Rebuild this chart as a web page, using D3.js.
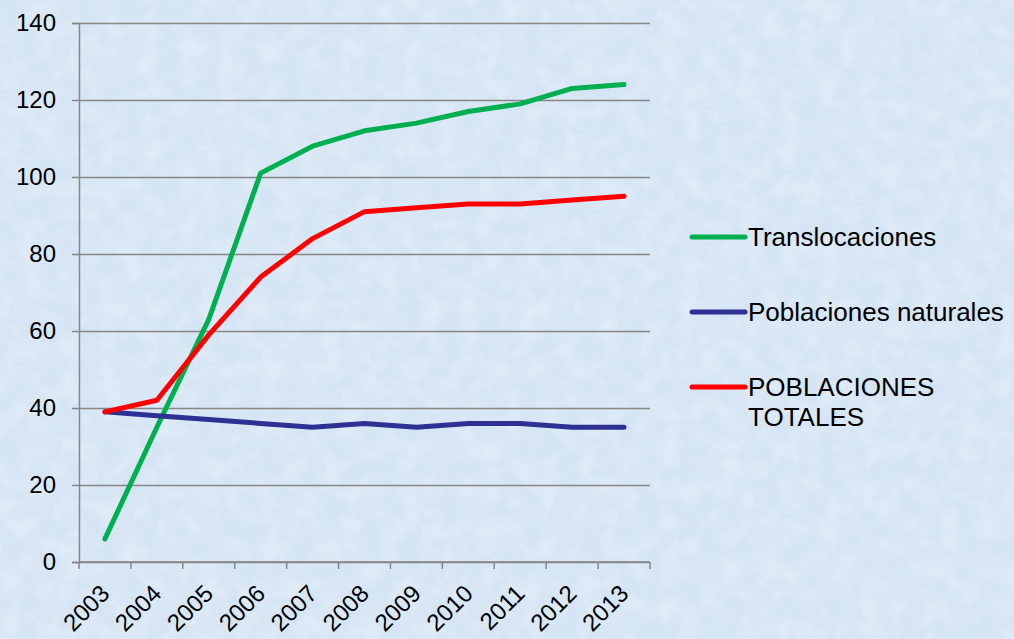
<!DOCTYPE html>
<html>
<head>
<meta charset="utf-8">
<script src="https://cdn.jsdelivr.net/npm/d3@7"></script>
<style>
  body { margin: 0; background: #dce9f6; }
  svg { display: block; font-family: "Liberation Sans", Arial, sans-serif; }
</style>
</head>
<body>
<script>
// chart data
var years = ["2003","2004","2005","2006","2007","2008","2009","2010","2011","2012","2013"];
var translocaciones = [6, 35, 63, 101, 108, 112, 114, 117, 119, 123, 124];
var naturales = [39, 38, 37, 36, 35, 36, 35, 36, 36, 35, 35];
var totales = [39, 42, 59, 74, 84, 91, 92, 93, 93, 94, 95];
var yTicks = [0, 20, 40, 60, 80, 100, 120, 140];

var series = [
  {name: ["Translocaciones"], values: translocaciones, color: "#00b050"},
  {name: ["Poblaciones naturales"], values: naturales, color: "#2e3192"},
  {name: ["POBLACIONES", "TOTALES"], values: totales, color: "#ff0000"}
];

var width = 1014,
    height = 639;
var margin = {left: 79, right: 364, top: 23, bottom: 77};

var svg = d3.select("body").append("svg")
    .attr("width", width)
    .attr("height", height);

// textured light blue background
var defs = svg.append("defs");
var f = defs.append("filter").attr("id", "tex").attr("x", 0).attr("y", 0).attr("width", "100%").attr("height", "100%");
f.append("feTurbulence").attr("type", "fractalNoise").attr("baseFrequency", 0.05).attr("numOctaves", 3).attr("seed", 4);
f.append("feColorMatrix").attr("type", "matrix")
    .attr("values", "0 0 0 0 1  0 0 0 0 1  0 0 0 0 1  0 0 0 0.7 -0.25");

svg.append("rect").attr("width", width).attr("height", height).attr("fill", "#d6e5f4");
svg.append("rect").attr("width", width).attr("height", height).attr("filter", "url(#tex)").attr("opacity", 0.7);

var x = d3.scaleBand().domain(years).range([margin.left, width - margin.right]);
var y = d3.scaleLinear().domain([0, 140]).range([height - margin.bottom, margin.top]);

// gridlines + y axis
var yAxis = svg.append("g")
    .attr("transform", "translate(" + margin.left + ",0)")
    .call(d3.axisLeft(y).tickValues(yTicks).tickSize(7).tickPadding(10).tickFormat(d3.format("d")));
yAxis.select(".domain").attr("stroke", "#868686").attr("stroke-width", 1.5);
yAxis.selectAll(".tick line").attr("stroke", "#868686").attr("stroke-width", 1.5)
    .attr("x2", -7).attr("x1", width - margin.right - margin.left);
yAxis.selectAll(".tick text").attr("font-size", 24).attr("fill", "#000")
    .attr("font-family", "Liberation Sans, Arial, sans-serif").attr("dx", -6);

// x axis
var xAxis = svg.append("g")
    .attr("transform", "translate(0," + (height - margin.bottom) + ")");
xAxis.append("line")
    .attr("x1", margin.left).attr("x2", width - margin.right)
    .attr("stroke", "#868686").attr("stroke-width", 1.5);
var bounds = years.map(function(d) { return x(d); }).concat([width - margin.right]);
xAxis.selectAll(".xt").data(bounds).enter().append("line")
    .attr("x1", function(d) { return d; }).attr("x2", function(d) { return d; })
    .attr("y1", 0).attr("y2", 7)
    .attr("stroke", "#868686").attr("stroke-width", 1.5);
xAxis.selectAll(".xl").data(years).enter().append("text")
    .attr("text-anchor", "end")
    .attr("font-size", 24)
    .attr("transform", function(d) { return "translate(" + (x(d) + x.bandwidth() / 2 + 6) + ",33) rotate(-45)"; })
    .text(function(d) { return d; });

// lines
var line = d3.line()
    .x(function(d, i) { return x(years[i]) + x.bandwidth() / 2; })
    .y(function(d) { return y(d); });

svg.selectAll(".series").data(series).enter().append("path")
    .attr("d", function(d) { return line(d.values); })
    .attr("fill", "none")
    .attr("stroke", function(d) { return d.color; })
    .attr("stroke-width", 5)
    .attr("stroke-linecap", "round")
    .attr("stroke-linejoin", "round");

// legend
var legend = svg.selectAll(".legend").data(series).enter().append("g")
    .attr("transform", function(d, i) { return "translate(692," + (237 + i * 75) + ")"; });
legend.append("line")
    .attr("x1", 0).attr("x2", 53)
    .attr("stroke", function(d) { return d.color; })
    .attr("stroke-width", 5).attr("stroke-linecap", "round");
legend.append("text")
    .attr("font-size", 26)
    .selectAll("tspan").data(function(d) { return d.name; }).enter().append("tspan")
    .attr("x", 56).attr("y", function(d, i) { return 9 + i * 30; })
    .text(function(d) { return d; });
</script>
</body>
</html>
